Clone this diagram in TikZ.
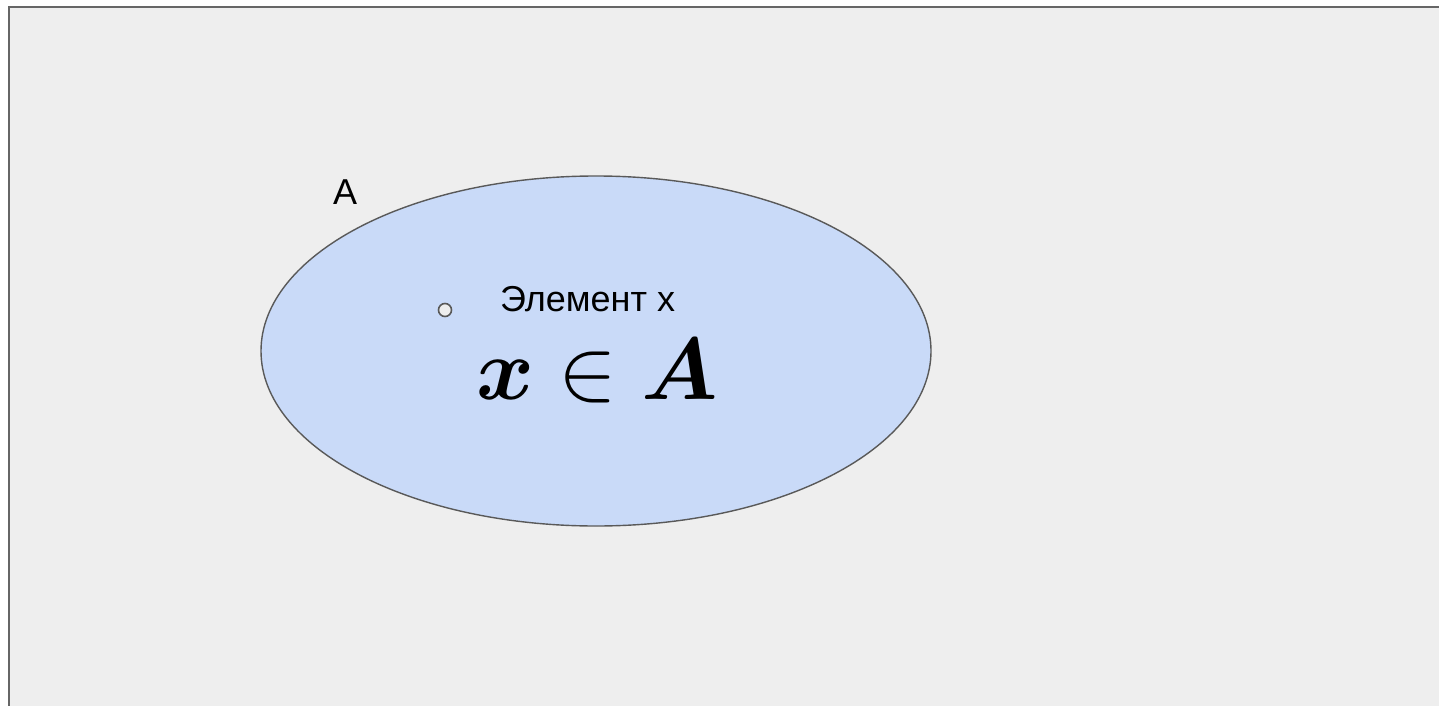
\RequirePackage{fix-cm}
\documentclass[tikz,border=0pt]{standalone}
\usepackage{fontspec}
\usepackage{amsmath}
\usepackage{bm}
\usetikzlibrary{shapes.geometric}
\setsansfont{Liberation Sans}
\definecolor{bgc}{HTML}{EEEEEE}
\definecolor{framec}{HTML}{666666}
\definecolor{ellc}{HTML}{C9DAF8}
\definecolor{ellline}{HTML}{595959}
\tikzset{
  lbl/.style={font=\sffamily\fontsize{36}{40}\selectfont, inner sep=0pt, anchor=base west},
}
\begin{document}
\begin{tikzpicture}[x=1pt,y=-1pt]
\useasboundingbox (0,0) rectangle (1439,706);
\clip (0,0) rectangle (1439,706);
\fill[white] (0,0) rectangle (1439,706);
\draw[framec, fill=bgc, line width=2pt] (9,7) rectangle (1460,730);
\node[draw=ellline, fill=ellc, line width=1.4pt, ellipse, minimum width=670pt, minimum height=350pt, inner sep=0pt] (setA) at (596,351) {};
\node[lbl] (labelA) at (333,204) {A};
\node[circle, draw=ellline, fill=bgc, line width=1.6pt, minimum size=13pt, inner sep=0pt] (xdot) at (445,310) {};
\node[lbl] (elem) at (500,311) {Элемент x};
\node[inner sep=0pt, anchor=base west, font=\fontsize{88}{92}\selectfont] (memb) at (476,399) {$\boldsymbol{x} \in \boldsymbol{A}$};
\end{tikzpicture}
\end{document}
